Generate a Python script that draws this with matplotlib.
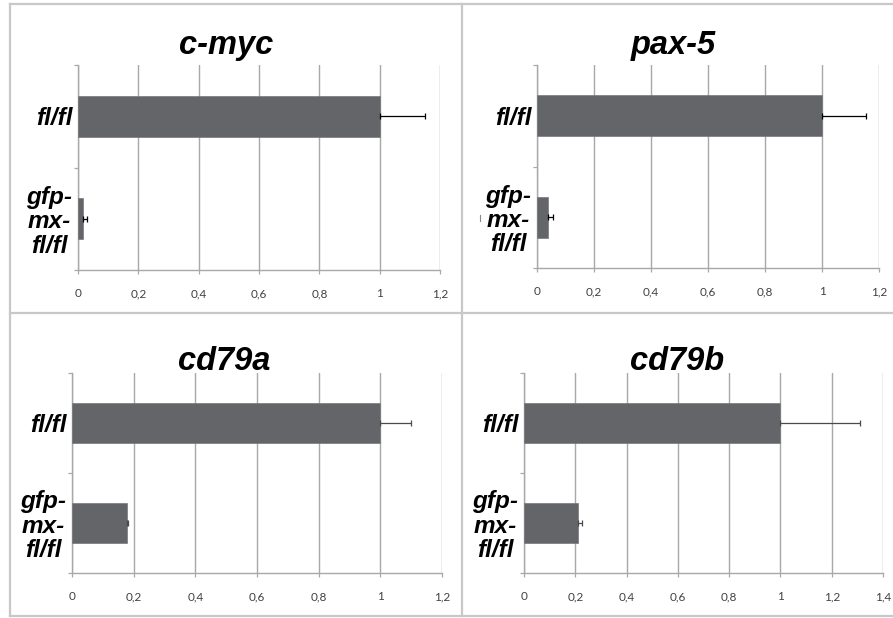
import numpy as np
import matplotlib
matplotlib.use("Agg")
import matplotlib.pyplot as plt
from matplotlib.lines import Line2D
from matplotlib.ticker import FixedLocator, FuncFormatter

# data
genes = ['c-myc', 'pax-5', 'cd79a', 'cd79b']
categories = ['fl/fl', 'gfp-\nmx-\nfl/fl']
fl_values = [1.0, 1.0, 1.0, 1.0]
fl_errors = [0.15, 0.155, 0.10, 0.31]
ko_values = [0.017, 0.04, 0.177, 0.211]
ko_errors = [0.013, 0.017, 0.005, 0.017]
x_max = [1.2, 1.2, 1.2, 1.4]

W, H = 893, 618
fig = plt.figure(figsize=(W / 100, H / 100), dpi=100)

def px_rect(x0, y0, x1, y1):
	return [x0 / W, 1 - y1 / H, (x1 - x0) / W, (y1 - y0) / H]

# axes boxes in pixels (left, top, right, bottom) and title anchors
boxes = [(78, 65, 440, 270), (537, 65, 879, 268), (72, 373, 442, 573), (524, 373, 883, 573)]
titles_xy = [(226, 54), (673, 54), (224, 370), (677, 370)]
err_colors = ['black', 'black', '#4a4a4a', '#4a4a4a']

bar_col = '#646569'
grid_col = '#a8a8a8'
label_font = dict(family='Liberation Sans', weight='bold', style='italic')

for i, gene in enumerate(genes):
	ax = fig.add_axes(px_rect(*boxes[i]))
	vals = [fl_values[i], ko_values[i]]
	errs = [fl_errors[i], ko_errors[i]]
	ypos = np.arange(len(categories))
	ax.barh(ypos, vals, height=0.4, color=bar_col, edgecolor='#77787b', linewidth=0.5, zorder=3)
	ax.errorbar(vals, ypos, xerr=[[0, 0], errs], fmt='none', ecolor=err_colors[i],
				elinewidth=0.9, capsize=2.5, capthick=0.9, zorder=4)
	ax.set_xlim(0, x_max[i])
	ax.set_ylim(1.5, -0.5)

	xt = np.round(np.arange(0, x_max[i] + 0.001, 0.2), 1)
	ax.set_xticks(xt)
	ax.xaxis.set_major_formatter(FuncFormatter(lambda v, p: ('%g' % v).replace('.', ',')))
	ax.tick_params(axis='x', length=3, width=0.9, color=grid_col, pad=10,
				   labelsize=8.5, labelcolor='#404040')
	for lab in ax.get_xticklabels():
		lab.set_family('Lato')
	ax.grid(axis='x', color=grid_col, linewidth=1.0, zorder=0)

	ax.set_yticks(ypos)
	ax.set_yticklabels(categories, fontsize=17.5, linespacing=1.08, multialignment='center', **label_font)
	ax.yaxis.set_minor_locator(FixedLocator([-0.5, 0.5, 1.5]))
	ax.tick_params(axis='y', which='major', length=0, pad=4)
	ax.tick_params(axis='y', which='minor', length=3, width=0.9, color=grid_col)

	for s in ['top', 'right']:
		ax.spines[s].set_visible(False)
	for s in ['left', 'bottom']:
		ax.spines[s].set_color(grid_col)
		ax.spines[s].set_linewidth(1.0)

	tx, ty = titles_xy[i]
	fig.text(tx / W, 1 - ty / H, gene, ha='center', va='baseline', fontsize=23.5, **label_font)

# panel frames
frame_col = '#c8c8c8'
def hline(y, x0, x1):
	fig.add_artist(Line2D([x0 / W, x1 / W], [1 - y / H, 1 - y / H], color=frame_col, lw=1.6))
def vline(x, y0, y1):
	fig.add_artist(Line2D([x / W, x / W], [1 - y0 / H, 1 - y1 / H], color=frame_col, lw=1.6))

hline(4, 10, W)
hline(313, 10, W)
hline(616, 10, W)
vline(10, 4, 616)
vline(462, 4, 616)

# small stray mark next to the pax-5 label
fig.add_artist(Line2D([480 / W, 480 / W], [1 - 215 / H, 1 - 221 / H], color='#888888', lw=0.8))

fig.savefig('out.png', dpi=100, facecolor='white')
